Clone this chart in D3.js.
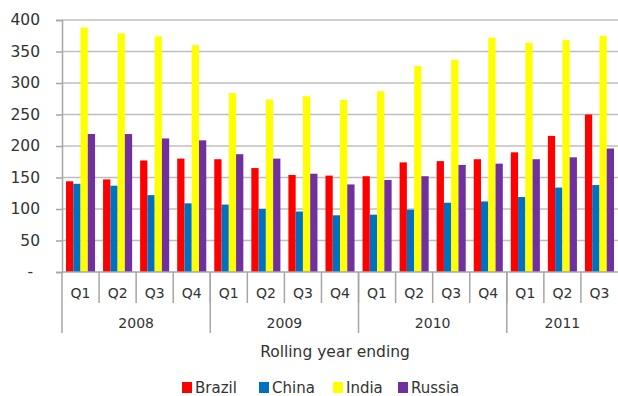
<!DOCTYPE html>
<html>
<head>
<meta charset="utf-8">
<script src="https://cdn.jsdelivr.net/npm/d3@7"></script>
<style>
body{margin:0;background:#fff;}
text{font-family:"DejaVu Sans",sans-serif;fill:#333;}
</style>
</head>
<body>
<div id="chart"></div>
<script>
// data
var years = ["2008","2009","2010","2011"];
var quarters = ["Q1","Q2","Q3","Q4","Q1","Q2","Q3","Q4","Q1","Q2","Q3","Q4","Q1","Q2","Q3"];
var series = ["Brazil","China","India","Russia"];
var colors = ["#FF0000","#0070C0","#FFFF00","#7030A0"];
var brazil = [144,147,177,180,179,165,154,153,152,174,176,179,190,216,250];
var china  = [140,137,122,109,107,100,96,90,91,99,110,112,119,134,138];
var india  = [388,379,374,360,284,274,279,273,287,327,337,372,364,368,375];
var russia = [219,219,212,209,187,180,156,139,146,152,170,172,179,182,196];
var yTicks = [0,50,100,150,200,250,300,350,400];

var values = [brazil,china,india,russia];
var W = 618, H = 396;
var pLeft = 62, pRight = 618, pTop = 20, pBottom = 272;

var svg = d3.select("#chart").append("svg").attr("width",W).attr("height",H);

var idx = d3.range(quarters.length);
var x = d3.scaleBand().domain(idx).range([pLeft,pRight]);
var xs = d3.scaleBand().domain(series).range([4, x.bandwidth()-4]);
var y = d3.scaleLinear().domain([0,400]).range([pBottom,pTop]);

// grid
svg.append("g").selectAll("line").data(yTicks.slice(1)).enter().append("line")
  .attr("x1",pLeft).attr("x2",pRight)
  .attr("y1",function(d){return y(d);}).attr("y2",function(d){return y(d);})
  .attr("stroke","#BFBFBF").attr("stroke-width",1.5);

// bars
series.forEach(function(s,i){
  svg.append("g").selectAll("rect").data(values[i]).enter().append("rect")
    .attr("x",function(d,j){return x(j)+xs(s);})
    .attr("width",xs.bandwidth())
    .attr("y",function(d){return y(d);})
    .attr("height",function(d){return y(0)-y(d);})
    .attr("fill",colors[i]);
});

// y axis
var yAxis = d3.axisLeft(y).tickValues(yTicks).tickSize(6).tickPadding(16)
  .tickFormat(function(d){return d==0 ? "-" : d;});
var gy = svg.append("g").attr("transform","translate("+pLeft+",0)").call(yAxis);
gy.select(".domain").attr("stroke","#A6A6A6").attr("stroke-width",1.5);
gy.selectAll(".tick line").attr("stroke","#A6A6A6").attr("stroke-width",1.5);
gy.selectAll(".tick text").style("font-size","15.5px").style("font-family","DejaVu Sans").attr("fill","#333")
  .attr("dx",function(d){return d==0 ? -7 : 0;});

// x axis baseline
svg.append("line").attr("x1",pLeft).attr("x2",pRight).attr("y1",pBottom).attr("y2",pBottom)
  .attr("stroke","#A6A6A6").attr("stroke-width",1.5);

// quarter separators
svg.append("g").selectAll("line").data(idx.slice(1)).enter().append("line")
  .attr("x1",function(d){return x(d);}).attr("x2",function(d){return x(d);})
  .attr("y1",pBottom).attr("y2",303)
  .attr("stroke","#A6A6A6").attr("stroke-width",1.5);

// quarter labels
svg.append("g").selectAll("text").data(quarters).enter().append("text")
  .attr("x",function(d,j){return x(j)+x.bandwidth()/2;})
  .attr("y",298).attr("text-anchor","middle").style("font-size","14px")
  .text(function(d){return d;});

// year separators and labels
var yearStart = [0,4,8,12];
var yearEnd = [4,8,12,15];
svg.append("g").selectAll("line").data(yearStart).enter().append("line")
  .attr("x1",function(d){return x(d);}).attr("x2",function(d){return x(d);})
  .attr("y1",pBottom).attr("y2",333)
  .attr("stroke","#A6A6A6").attr("stroke-width",1.5);
svg.append("g").selectAll("text").data(years).enter().append("text")
  .attr("x",function(d,i){return (x(yearStart[i]) + (yearEnd[i]<15 ? x(yearEnd[i]) : pRight))/2;})
  .attr("y",328).attr("text-anchor","middle").style("font-size","14px")
  .text(function(d){return d;});

// axis title
svg.append("text").attr("x",335).attr("y",357).attr("text-anchor","middle")
  .style("font-size","15.5px").text("Rolling year ending");

// legend
var legX = [182,259,333,398];
var leg = svg.append("g").selectAll("g").data(series).enter().append("g")
  .attr("transform",function(d,i){return "translate("+legX[i]+",382)";});
leg.append("rect").attr("width",10).attr("height",11).attr("fill",function(d,i){return colors[i];});
leg.append("text").attr("x",13).attr("y",11).style("font-size","15px").text(function(d){return d;});
</script>
</body>
</html>
